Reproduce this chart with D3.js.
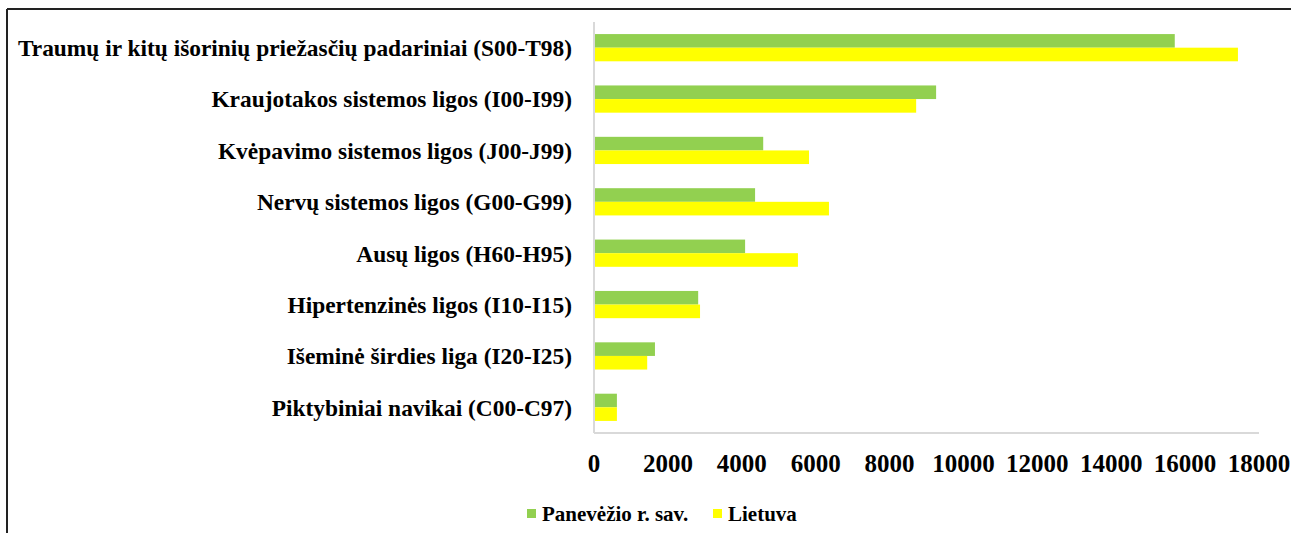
<!DOCTYPE html>
<html>
<head>
<meta charset="utf-8">
<script src="https://cdn.jsdelivr.net/npm/d3@7"></script>
<style>
  body { margin: 0; background: #fff; }
  .mono { font-family: "Liberation Serif", "Times New Roman", serif; font-weight: bold; fill: #000; }
</style>
</head>
<body>
<svg id="chart"></svg>
<script>
var Categories = [
  "Traumų ir kitų išorinių priežasčių padariniai (S00-T98)",
  "Kraujotakos sistemos ligos (I00-I99)",
  "Kvėpavimo sistemos ligos (J00-J99)",
  "Nervų sistemos ligos (G00-G99)",
  "Ausų ligos (H60-H95)",
  "Hipertenzinės ligos (I10-I15)",
  "Išeminė širdies liga (I20-I25)",
  "Piktybiniai navikai (C00-C97)"
];
var Series = ["Panevėžio r. sav.", "Lietuva"];
var Panevezys = [15720, 9260, 4580, 4360, 4090, 2820, 1650, 620];
var Lietuva = [17430, 8720, 5820, 6360, 5520, 2870, 1440, 620];
var Ticks = [0, 2000, 4000, 6000, 8000, 10000, 12000, 14000, 16000, 18000];

function drawChart() {
  const width = 1291,
    height = 533,
    margin = {top: 22, left: 594, right: 32, bottom: 100},
    colors = ["#92d050", "#ffff00"];

  const svg = d3.select("#chart")
    .attr("width", width)
    .attr("height", height);

  // page frame (top and left edge)
  svg.append("line")
    .attr("x1", 7).attr("x2", width).attr("y1", 9).attr("y2", 9)
    .style("stroke", "#222").style("stroke-width", 2);
  svg.append("line")
    .attr("x1", 7).attr("x2", 7).attr("y1", 9).attr("y2", height)
    .style("stroke", "#222").style("stroke-width", 2);

  const x = d3.scaleLinear()
    .domain([0, 18000])
    .range([margin.left, width - margin.right]);

  const y = d3.scaleBand()
    .domain(Categories)
    .range([margin.top, height - margin.bottom])
    .paddingInner(0.47)
    .paddingOuter(0.235);

  const sub = d3.scaleBand()
    .domain(Series)
    .range([0, y.bandwidth()]);

  const data = Categories.map((c, i) => ({cat: c, values: [Panevezys[i], Lietuva[i]]}));

  const groups = svg.selectAll(".group")
    .data(data)
    .enter()
    .append("g")
    .attr("class", "group")
    .attr("transform", (d) => "translate(0," + y(d.cat) + ")");

  groups.selectAll("rect")
    .data((d) => d.values.map((v, j) => ({s: Series[j], v: v, j: j})))
    .enter()
    .append("rect")
    .attr("x", x(0))
    .attr("y", (d) => sub(d.s))
    .attr("width", (d) => x(d.v) - x(0))
    .attr("height", sub.bandwidth())
    .style("fill", (d) => colors[d.j]);

  // axis lines
  svg.append("line")
    .attr("x1", x(0)).attr("x2", x(0))
    .attr("y1", margin.top).attr("y2", height - margin.bottom)
    .style("stroke", "#d9d9d9").style("stroke-width", 2);
  svg.append("line")
    .attr("x1", x(0)).attr("x2", x(18000))
    .attr("y1", height - margin.bottom).attr("y2", height - margin.bottom)
    .style("stroke", "#d9d9d9").style("stroke-width", 2);

  // category labels
  svg.selectAll(".catLabel")
    .data(Categories)
    .enter()
    .append("text")
    .attr("class", "catLabel mono")
    .text((d) => d)
    .attr("x", 572)
    .attr("y", (d) => y(d) + y.bandwidth() / 2)
    .attr("dy", "0.36em")
    .style("text-anchor", "end")
    .style("font-size", "23.4px");

  // tick labels
  svg.selectAll(".tickLabel")
    .data(Ticks)
    .enter()
    .append("text")
    .attr("class", "tickLabel mono")
    .text((d) => d)
    .attr("x", (d) => x(d))
    .attr("y", 472)
    .style("text-anchor", "middle")
    .style("font-size", "25px");

  // legend
  const legendX = [527, 713];
  const legend = svg.selectAll(".legend")
    .data(Series)
    .enter()
    .append("g")
    .attr("class", "legend")
    .attr("transform", (d, i) => "translate(" + legendX[i] + ",509)");

  legend.append("rect")
    .attr("width", 9)
    .attr("height", 9)
    .style("fill", (d, i) => colors[i]);

  legend.append("text")
    .attr("class", "mono")
    .text((d) => d)
    .attr("x", 15)
    .attr("y", 12)
    .style("font-size", "21px");
}

drawChart();
</script>
</body>
</html>
